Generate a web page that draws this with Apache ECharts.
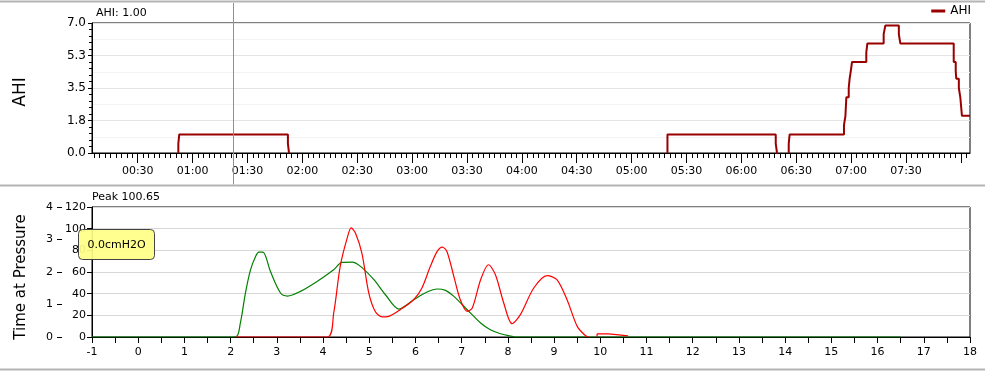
<!DOCTYPE html>
<html>
<head>
<meta charset="utf-8">
<script src="https://cdn.jsdelivr.net/npm/echarts@6/dist/echarts.min.js"></script>
<style>
html,body{margin:0;padding:0;background:#fff;}
#chart{width:985px;height:371px;}
</style>
</head>
<body>
<div id="chart"></div>
<script>
// ---------- data ----------
const timeLabels = ['00:30','01:00','01:30','02:00','02:30','03:00','03:30','04:00','04:30','05:00','05:30','06:00','06:30','07:00','07:30'];
const timeMin = 5, timeMax = 485;          // minutes after 00:00
const ahiYLabels = ['0.0','1.8','3.5','5.3','7.0'];
// step changes of AHI (minutes after 00:00, value); null = no line
const ahiTime  = [52.2, 52.2, 52.7, 112.1, 112.7, 113, 319.6, 319.6, 378.8, 379.5, 380, 385.9, 385.9, 386.4, 416.1, 416.9, 417.4, 418.7, 419.2, 419.8, 420.5, 428.3, 428.9, 437.8, 438.7, 446.1, 446.9, 476.1, 477.2, 477.5, 478.9, 479.7, 480.6, 485];
const ahiValue = [0, 0.5, 1.0, 0.5, 0, null, 0, 1.0, 0.5, 0, null, 0, 0.5, 1.0, 1.5, 2.0, 3.0, 3.5, 4.0, 4.4, 4.9, 5.4, 5.9, 6.4, 6.86, 6.4, 5.9, 4.9, 4.4, 4.0, 3.5, 3.0, 2.0, 2.0];
const cursorTime = 82;
const pressureLabels = ['-1','0','1','2','3','4','5','6','7','8','9','10','11','12','13','14','15','16','17','18'];
const greenCurve = [[-1,0],[2.1,0],[2.21,12.9],[2.32,40.6],[2.43,62],[2.54,74.4],[2.61,78.4],[2.70,78.4],[2.86,60.6],[3.08,40.6],[3.23,37.8],[3.51,42.1],[3.87,51.3],[4.23,62.1],[4.41,68.9],[4.63,69.2],[4.81,65.2],[5.10,52.9],[5.35,39],[5.64,25.8],[5.96,34.4],[6.25,41.5],[6.47,44.3],[6.65,43],[6.83,37.5],[7.12,25.2],[7.41,12.9],[7.62,6.7],[7.84,3],[8.09,0.6],[8.15,0],[16.5,0]];
const redCurve = [[2.1,0],[4.09,0],[4.23,22],[4.37,65],[4.52,91],[4.61,100.65],[4.70,96],[4.84,77.5],[4.99,40.6],[5.13,23.6],[5.28,18.5],[5.42,19],[5.67,25.2],[5.96,34.4],[6.14,45.2],[6.32,65],[6.47,79],[6.58,83],[6.68,79],[6.83,56],[6.97,34.4],[7.12,23.6],[7.23,26.8],[7.41,52.9],[7.58,66.7],[7.73,57.5],[7.91,31.4],[8.09,12.3],[8.27,20.6],[8.56,45.2],[8.85,56.6],[9.06,52.9],[9.28,34.4],[9.50,9.8],[9.68,1.2],[9.75,0]];
const redTail = [[9.93,0.3],[10.0,2.8],[10.18,2.8],[10.22,2],[10.4,2],[10.43,1],[10.6,1]];
const countLabels = ['0','20','40','60','80','100','120'];
const hourLabels = ['0','1','2','3','4'];

// ---------- helpers ----------
const toMin = s => { const p = s.split(':'); return (+p[0]) * 60 + (+p[1]); };
const majorTicks = timeLabels.map(toMin).concat([480]);
const minorTicks = [];
for (let m = Math.ceil(timeMin / 3) * 3; m <= timeMax; m += 3) minorTicks.push(m);
const labelOf = {};
timeLabels.forEach(s => { labelOf[toMin(s)] = s; });

const FONT = 'DejaVu Sans';
const chart = echarts.init(document.getElementById('chart'), null, {renderer: 'canvas'});

const option = {
  animation: false,
  textStyle: {fontFamily: FONT, color: '#000'},
  legend: {
    data: ['AHI'], right: 14, top: 5, icon: 'rect', itemWidth: 14, itemHeight: 3,
    textStyle: {fontSize: 12, color: '#000', fontFamily: FONT}, padding: 0
  },
  grid: [
    {left: 92, right: 15, top: 23, height: 130, show: true, borderColor: '#000', borderWidth: 1, backgroundColor: 'transparent'},
    {left: 92, right: 15, top: 207, height: 130, show: true, borderColor: '#000', borderWidth: 1, backgroundColor: 'transparent'}
  ],
  xAxis: [
    {gridIndex: 0, type: 'value', position: 'bottom', min: timeMin, max: timeMax,
     axisLine: {onZero: false, lineStyle: {color: '#000', width: 1}},
     axisTick: {customValues: minorTicks, length: 5, lineStyle: {color: '#000'}},
     axisLabel: {show: false}, splitLine: {show: false}},
    {gridIndex: 0, type: 'value', position: 'bottom', min: timeMin, max: timeMax,
     axisLine: {show: false, onZero: false},
     axisTick: {customValues: majorTicks, length: 10, lineStyle: {color: '#000'}},
     axisLabel: {customValues: majorTicks, formatter: v => labelOf[v] || '', fontSize: 11, color: '#000', margin: 13, fontFamily: FONT},
     splitLine: {show: false}},
    {gridIndex: 1, type: 'value', position: 'bottom', min: -1, max: 18, interval: 1,
     axisLine: {onZero: false, lineStyle: {color: '#000'}},
     axisTick: {length: 6, lineStyle: {color: '#000'}},
     minorTick: {show: true, splitNumber: 2, length: 6, lineStyle: {color: '#000'}},
     axisLabel: {fontSize: 11, color: '#000', margin: 10, fontFamily: FONT,
                 formatter: v => pressureLabels[Math.round(v) + 1]},
     splitLine: {show: false}}
  ],
  yAxis: [
    {gridIndex: 0, type: 'value', position: 'left', min: 0, max: 7, interval: 1.75,
     axisLine: {onZero: false, lineStyle: {color: '#000'}},
     axisTick: {length: 4, lineStyle: {color: '#000'}},
     minorTick: {show: true, splitNumber: 5, length: 3, lineStyle: {color: '#000'}},
     axisLabel: {fontSize: 12, color: '#000', margin: 6, fontFamily: FONT,
                 formatter: v => ahiYLabels[Math.round(v / 1.75)]},
     splitLine: {lineStyle: {color: '#e4e4e4'}}},
    {gridIndex: 0, type: 'value', position: 'left', min: 0, max: 7, interval: 0.875,
     axisLine: {show: false, onZero: false}, axisTick: {show: false}, axisLabel: {show: false},
     splitLine: {lineStyle: {color: ['#e4e4e4', '#f3f3f3']}}},
    {gridIndex: 1, type: 'value', position: 'left', min: 0, max: 120, interval: 20,
     axisLine: {onZero: false, lineStyle: {color: '#000'}},
     axisTick: {length: 5, lineStyle: {color: '#000'}},
     axisLabel: {fontSize: 11, color: '#000', margin: 6, fontFamily: FONT,
                 formatter: v => countLabels[Math.round(v / 20)]},
     splitLine: {lineStyle: {color: '#d8d8d8'}}},
    {gridIndex: 1, type: 'value', min: 0, max: 4, interval: 1, position: 'left', offset: 30,
     axisLine: {show: false, onZero: false},
     axisTick: {show: true, length: 5, lineStyle: {color: '#000'}},
     axisLabel: {fontSize: 11, color: '#000', margin: 9, fontFamily: FONT,
                 formatter: v => hourLabels[Math.round(v)]},
     splitLine: {show: false}}
  ],
  series: [
    {name: 'AHI', type: 'line', xAxisIndex: 0, yAxisIndex: 0, step: 'end', symbol: 'none',
     lineStyle: {color: '#990000', width: 2}, itemStyle: {color: '#990000'},
     data: ahiTime.map((t, i) => [t, ahiValue[i] === null ? '-' : ahiValue[i]])},
    {name: 'green', type: 'line', xAxisIndex: 2, yAxisIndex: 2, symbol: 'none', smooth: 0.3,
     lineStyle: {color: '#008000', width: 1.2}, data: greenCurve},
    {name: 'red', type: 'line', xAxisIndex: 2, yAxisIndex: 2, symbol: 'none', smooth: 0.3,
     lineStyle: {color: '#ff0000', width: 1.2}, data: redCurve},
    {name: 'redTail', type: 'line', xAxisIndex: 2, yAxisIndex: 2, symbol: 'none', step: 'start',
     lineStyle: {color: '#ff0000', width: 1.2}, data: redTail}
  ]
};
chart.setOption(option);

const cx = Math.round(chart.convertToPixel({xAxisIndex: 0}, cursorTime)) + 0.5;
chart.setOption({
  graphic: [
    {type: 'line', z: 100, shape: {x1: 0, y1: 1.5, x2: 985, y2: 1.5}, style: {stroke: '#b4b4b4', lineWidth: 2}},
    {type: 'line', z: 100, shape: {x1: 0, y1: 185.5, x2: 985, y2: 185.5}, style: {stroke: '#b4b4b4', lineWidth: 2}},
    {type: 'line', z: 100, shape: {x1: 0, y1: 369.5, x2: 985, y2: 369.5}, style: {stroke: '#b4b4b4', lineWidth: 2}},
    {type: 'line', z: 99, shape: {x1: cx, y1: 3, x2: cx, y2: 184.5}, style: {stroke: '#22dd22', lineWidth: 1}},
    {type: 'text', z: 100, x: 96, y: 13, style: {text: 'AHI: 1.00', fontSize: 11, fontFamily: FONT, fill: '#000', verticalAlign: 'middle'}},
    {type: 'text', z: 100, x: 92, y: 197, style: {text: 'Peak 100.65', fontSize: 11, fontFamily: FONT, fill: '#000', verticalAlign: 'middle'}},
    {type: 'text', z: 100, x: 21, y: 92, rotation: Math.PI / 2, style: {text: 'AHI', fontSize: 17, fontFamily: FONT, fill: '#000', align: 'center', verticalAlign: 'middle'}},
    {type: 'text', z: 100, x: 21, y: 277, rotation: Math.PI / 2, style: {text: 'Time at Pressure', fontSize: 15, fontFamily: FONT, fill: '#000', align: 'center', verticalAlign: 'middle'}},
    {type: 'rect', z: 100, shape: {x: 78.5, y: 229.5, width: 76, height: 30, r: 4}, style: {fill: 'rgba(255,255,136,0.93)', stroke: '#444', lineWidth: 1}},
    {type: 'text', z: 101, x: 116.5, y: 245, style: {text: '0.0cmH2O', fontSize: 11, fontFamily: FONT, fill: '#000', align: 'center', verticalAlign: 'middle'}}
  ]
});
</script>
</body>
</html>
